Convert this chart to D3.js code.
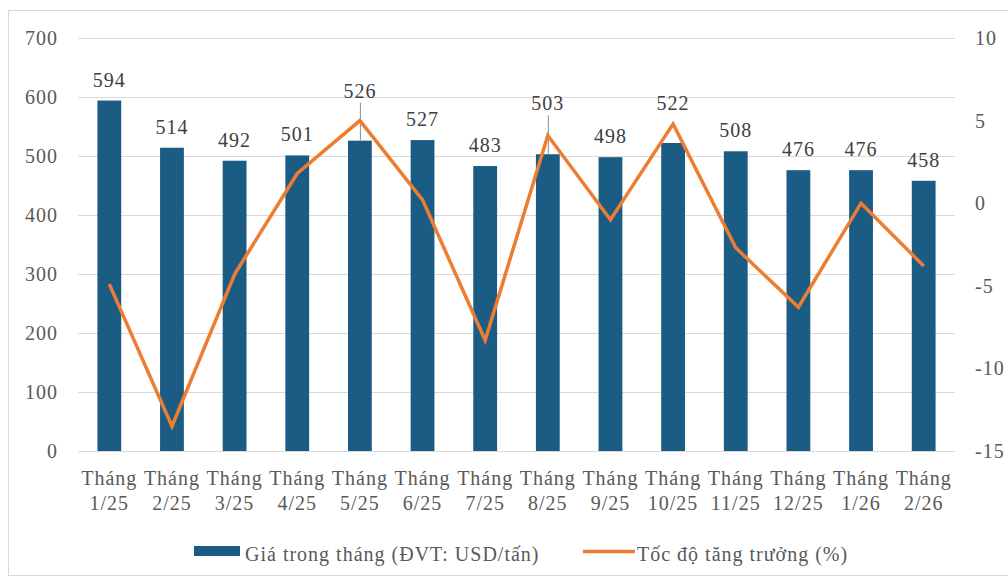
<!DOCTYPE html>
<html>
<head>
<meta charset="utf-8">
<script src="https://cdn.jsdelivr.net/npm/d3@7"></script>
<style>
  body { margin: 0; background: #fff; }
  svg text { font-family: "Liberation Serif", "Times New Roman", serif; letter-spacing: 1px; }
</style>
</head>
<body>
<svg id="chart" width="1008" height="578"></svg>
<script>
// data
const months = ["1/25", "2/25", "3/25", "4/25", "5/25", "6/25", "7/25",
                "8/25", "9/25", "10/25", "11/25", "12/25", "1/26", "2/26"];
const price = [594, 514, 492, 501, 526, 527, 483, 503, 498, 522, 508, 476, 476, 458];
const growth = [-4.9, -13.5, -4.3, 1.8, 5.0, 0.2, -8.3, 4.1, -1.0, 4.8, -2.7, -6.3, 0.0, -3.8];
const leftTicks = [0, 100, 200, 300, 400, 500, 600, 700];
const rightTicks = [-15, -10, -5, 0, 5, 10];
const legendBar = "Giá trong tháng (ĐVT: USD/tấn)";
const legendLine = "Tốc độ tăng trưởng (%)";

// labels Excel pushed up so they clear the line (extra px above the bar)
const labelLift = {"5/25": 50, "8/25": 51, "10/25": 40};

const svg = d3.select("#chart");
const plot = {left: 78, right: 955, top: 38, bottom: 451};
const blue = "#1b5c85", orange = "#ed7d31", grid = "#d9d9d9", txt = "#595959";
const fs = "20px";

svg.append("rect")
    .attr("x", 8.5).attr("y", 10.5)
    .attr("width", 1010).attr("height", 565)
    .attr("fill", "none").attr("stroke", grid);

let x = d3.scaleBand().domain(months).range([plot.left, plot.right]).paddingInner(0.62).paddingOuter(0.31);
let yL = d3.scaleLinear().domain([0, 700]).range([plot.bottom, plot.top]);
let yR = d3.scaleLinear().domain([-15, 10]).range([plot.bottom, plot.top]);

// grid
svg.append("g")
    .selectAll("line")
    .data(leftTicks)
    .enter()
    .append("line")
    .attr("x1", plot.left).attr("x2", plot.right)
    .attr("y1", d => Math.round(yL(d)) + 0.5).attr("y2", d => Math.round(yL(d)) + 0.5)
    .attr("stroke", grid).attr("stroke-width", 1);

// axes (hyphen minus like the original, not the unicode one)
let axL = svg.append("g")
    .attr("transform", "translate(" + (plot.left - 20) + ",0)")
    .call(d3.axisLeft(yL).tickValues(leftTicks).tickSize(0).tickPadding(0).tickFormat(d => String(d)));
let axR = svg.append("g")
    .attr("transform", "translate(" + (plot.right + 20) + ",0)")
    .call(d3.axisRight(yR).tickValues(rightTicks).tickSize(0).tickPadding(0).tickFormat(d => String(d)));
[axL, axR].forEach(function (a) {
    a.select(".domain").remove();
    a.selectAll("text")
        .style("font-family", "Liberation Serif")
        .style("font-size", fs)
        .attr("fill", txt);
});

// x labels, two lines
let xl = svg.append("g")
    .selectAll("text")
    .data(months)
    .enter()
    .append("text")
    .attr("text-anchor", "middle")
    .style("font-size", fs)
    .attr("fill", txt);
xl.append("tspan").attr("x", d => x(d) + x.bandwidth() / 2).attr("y", 485).text("Tháng");
xl.append("tspan").attr("x", d => x(d) + x.bandwidth() / 2).attr("y", 510).text(d => d);

// bars
svg.append("g")
    .selectAll("rect")
    .data(price)
    .enter()
    .append("rect")
    .attr("x", (d, i) => x(months[i]))
    .attr("y", d => yL(d))
    .attr("width", x.bandwidth())
    .attr("height", d => yL(0) - yL(d))
    .attr("fill", blue);

// leader lines for lifted labels
let lifted = months.filter(m => (labelLift[m] || 0) > 45);
svg.append("g")
    .selectAll("line")
    .data(lifted)
    .enter()
    .append("line")
    .attr("x1", m => x(m) + x.bandwidth() / 2 + 0.5)
    .attr("x2", m => x(m) + x.bandwidth() / 2 + 0.5)
    .attr("y1", m => yL(price[months.indexOf(m)]) - labelLift[m] + 12)
    .attr("y2", m => yL(price[months.indexOf(m)]))
    .attr("stroke", "#8c8c8c").attr("stroke-width", 1);

// line
let line = d3.line()
    .x((d, i) => x(months[i]) + x.bandwidth() / 2)
    .y(d => yR(d));
svg.append("path")
    .datum(growth)
    .attr("d", line)
    .attr("fill", "none")
    .attr("stroke", orange)
    .attr("stroke-width", 3.5)
    .attr("stroke-linejoin", "miter");

// data labels
svg.append("g")
    .selectAll("text")
    .data(price)
    .enter()
    .append("text")
    .attr("x", (d, i) => x(months[i]) + x.bandwidth() / 2)
    .attr("y", (d, i) => yL(d) - (labelLift[months[i]] || 21) + 7)
    .attr("text-anchor", "middle")
    .style("font-size", fs)
    .attr("fill", "#404040")
    .text(d => d);

// legend
let lg = svg.append("g");
lg.append("rect").attr("x", 194).attr("y", 546).attr("width", 46).attr("height", 10).attr("fill", blue);
lg.append("text").attr("x", 245).attr("y", 561).style("font-size", fs).attr("fill", txt).text(legendBar);
lg.append("line").attr("x1", 583).attr("x2", 635).attr("y1", 551.5).attr("y2", 551.5)
    .attr("stroke", orange).attr("stroke-width", 3.5);
lg.append("text").attr("x", 637).attr("y", 561).style("font-size", fs).attr("fill", txt).text(legendLine);
</script>
</body>
</html>
